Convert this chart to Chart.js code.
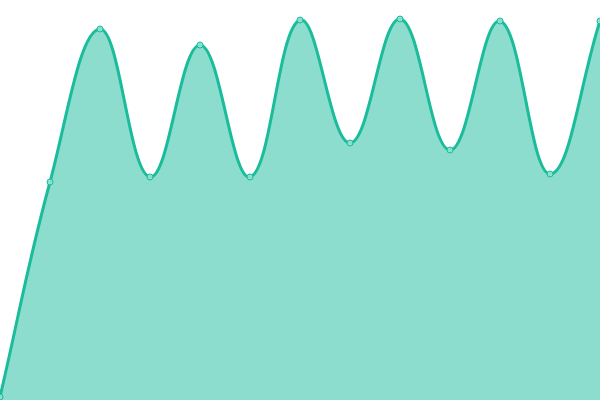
<!DOCTYPE html>
<html>
<head>
<meta charset="utf-8">
<script src="https://cdn.jsdelivr.net/npm/chart.js@4"></script>
<style>
  html, body { margin: 0; padding: 0; background: #fff; }
  #wrap { width: 600px; height: 400px; }
</style>
</head>
<body>
<div id="wrap"><canvas id="area-chart"></canvas></div>
<script>
const labels = ["1", "2", "3", "4", "5", "6", "7", "8", "9", "10", "11", "12", "13"];
const values = [3, 218, 371, 223, 355, 223, 380, 257, 381, 250, 379, 226, 379];

const ctx = document.getElementById("area-chart");

new Chart(ctx, {
    type: "line",
    data: {
        labels: labels,
        datasets: [
            {
                data: values,
                borderColor: "#1abc9c",
                backgroundColor: "rgba(26, 188, 156, 0.5)",
                borderWidth: 3,
                fill: true,
                tension: 0.4,
                pointRadius: 3,
                pointBorderWidth: 1,
                pointBackgroundColor: "#8ae0cf",
                pointBorderColor: "#1abc9c",
            },
        ],
    },
    options: {
        responsive: true,
        maintainAspectRatio: false,
        animation: false,
        layout: { padding: 0, autoPadding: false },
        plugins: {
            legend: { display: false },
            tooltip: { enabled: false },
        },
        scales: {
            x: { display: false, offset: false },
            y: { display: false, min: 0, max: 400 },
        },
    },
});
</script>
</body>
</html>
